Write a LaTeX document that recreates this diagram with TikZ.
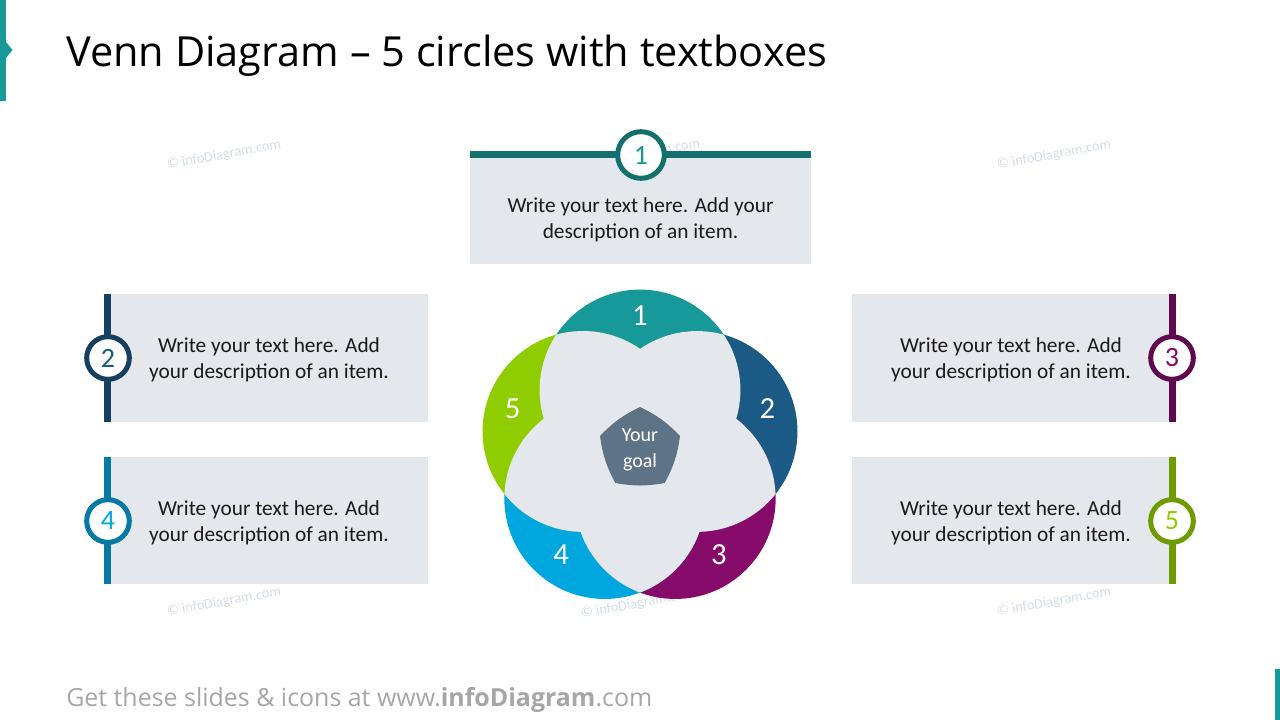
\documentclass[tikz,border=0pt]{standalone}
\usepackage{fontspec}
\setmainfont{Carlito}
\newfontfamily\titlefont{Open Sans}
\definecolor{tealA}{HTML}{17999A}
\definecolor{tealBar}{HTML}{12706D}
\definecolor{blueA}{HTML}{1B5A84}
\definecolor{blueBar}{HTML}{173F5F}
\definecolor{purpA}{HTML}{850A6A}
\definecolor{purpBar}{HTML}{5F0A4E}
\definecolor{cyanA}{HTML}{00A6DE}
\definecolor{cyanBar}{HTML}{0779A5}
\definecolor{limeA}{HTML}{8FCC00}
\definecolor{limeBar}{HTML}{6E9C00}
\definecolor{boxgrey}{HTML}{E4E7EB}
\definecolor{goalgrey}{HTML}{5F7387}
\definecolor{wmgrey}{HTML}{D3DDE6}
\definecolor{footgrey}{HTML}{A6A6A6}
\definecolor{txt}{HTML}{1A1A1A}
\tikzset{
  wm/.style={font=\fontsize{10.8}{12}\selectfont, text=wmgrey, rotate=10, inner sep=0},
  greybox/.style={fill=boxgrey, inner sep=0, draw=none},
  desc/.style={font=\fontsize{16}{19.5}\selectfont, text=txt, align=center, inner sep=0},
  badge/.style={circle, fill=white, draw=#1, line width=3.75pt, minimum size=32pt, inner sep=0, font=\fontsize{21}{24}\selectfont},
  vnum/.style={text=white, font=\fontsize{23}{26}\selectfont, inner sep=0},
}
\begin{document}
\begin{tikzpicture}[x=0.75pt,y=-0.75pt]
\useasboundingbox (0,0) rectangle (1280,720);
% accents
\fill[tealA] (0,0) rectangle (6,101);
\fill[tealA] (6,42) -- (12.5,50) -- (6,58) -- cycle;
\fill[tealA] (1275,669) rectangle (1280,720);
% title and footer
\node[anchor=base west, inner sep=0, font=\titlefont\fontsize{31.1}{36}\selectfont, text=black] (title) at (66,67) {Venn Diagram – 5 circles with textboxes};
\node[anchor=base west, inner sep=0, font=\titlefont\fontsize{18.7}{22}\selectfont, text=footgrey] (footer) at (66,706) {Get these slides \& icons at www.\textbf{infoDiagram}.com};
% watermarks
\node[wm] (wm1) at (224,155) {© infoDiagram.com};
\node[wm] (wm2) at (1054,155) {© infoDiagram.com};
\node[wm] (wm3) at (224,602) {© infoDiagram.com};
\node[wm] (wm4) at (1054,602) {© infoDiagram.com};
\node[wm] (wm5) at (638,604) {© infoDiagram.com};
\node[wm] (wm6) at (643,154) {© infoDiagram.com};
% Venn circles
\coordinate (V1) at (640,390);
\coordinate (V2) at (697.06,431.46);
\coordinate (V3) at (675.27,498.54);
\coordinate (V4) at (604.73,498.54);
\coordinate (V5) at (582.94,431.46);
\fill[tealA] (V1) circle (75.3pt);
\fill[blueA] (V2) circle (75.3pt);
\fill[purpA] (V3) circle (75.3pt);
\fill[cyanA] (V4) circle (75.3pt);
\fill[limeA] (V5) circle (75.3pt);
\foreach \a/\b in {1/2,1/3,1/4,1/5,2/3,2/4,2/5,3/4,3/5,4/5}{
  \begin{scope}
    \clip (V\a) circle (75.3pt);
    \fill[boxgrey] (V\b) circle (75.3pt);
  \end{scope}
}
\node[vnum] (n1) at (640,316) {1};
\node[vnum] (n2) at (767.4,408.6) {2};
\node[vnum] (n3) at (718.8,555) {3};
\node[vnum] (n4) at (561.2,555) {4};
\node[vnum] (n5) at (512.6,408.6) {5};
% goal pentagon
\fill[goalgrey] (640,407) to[bend left=10] (680,436) to[bend left=10] (664.7,483) to[bend left=10] (615.3,483) to[bend left=10] (600,436) to[bend left=10] cycle;
\node[text=white, align=center, inner sep=0, font=\fontsize{15}{19.5}\selectfont] (goal) at (640,450) {Your\\goal};
% top box 1
\node[greybox, minimum width=255.75pt, minimum height=79.5pt] (box1) at (640.5,211) {};
\fill[tealBar] (470,151) rectangle (811,158);
\node[badge=tealBar, minimum size=35pt, text=tealA] (b1) at (641,155) {1};
\node[desc] (t1) at (640.5,219.5) {Write your text here. Add your\\description of an item.};
% left boxes
\node[greybox, minimum width=238.5pt, minimum height=96pt] (box2) at (269,358) {};
\fill[blueBar] (104,294) rectangle (110.5,422);
\node[badge=blueBar, text=blueA] (b2) at (108,358) {2};
\node[desc] (t2) at (269,360) {Write your text here. Add\\your description of an item.};
\node[greybox, minimum width=238.5pt, minimum height=95.25pt] (box4) at (269,520.5) {};
\fill[cyanBar] (104,457) rectangle (110.5,584);
\node[badge=cyanBar, text=cyanA] (b4) at (108,521) {4};
\node[desc] (t4) at (269,523) {Write your text here. Add\\your description of an item.};
% right boxes
\node[greybox, minimum width=237.75pt, minimum height=96pt] (box3) at (1010.5,358) {};
\fill[purpBar] (1169,294) rectangle (1176,422);
\node[badge=purpBar, text=purpA] (b3) at (1172,358) {3};
\node[desc] (t3) at (1011,360) {Write your text here. Add\\your description of an item.};
\node[greybox, minimum width=237.75pt, minimum height=95.25pt] (box5) at (1010.5,520.5) {};
\fill[limeBar] (1169,457) rectangle (1176,584);
\node[badge=limeBar, text=limeA] (b5) at (1172,521) {5};
\node[desc] (t5) at (1011,523) {Write your text here. Add\\your description of an item.};
\end{tikzpicture}
\end{document}
